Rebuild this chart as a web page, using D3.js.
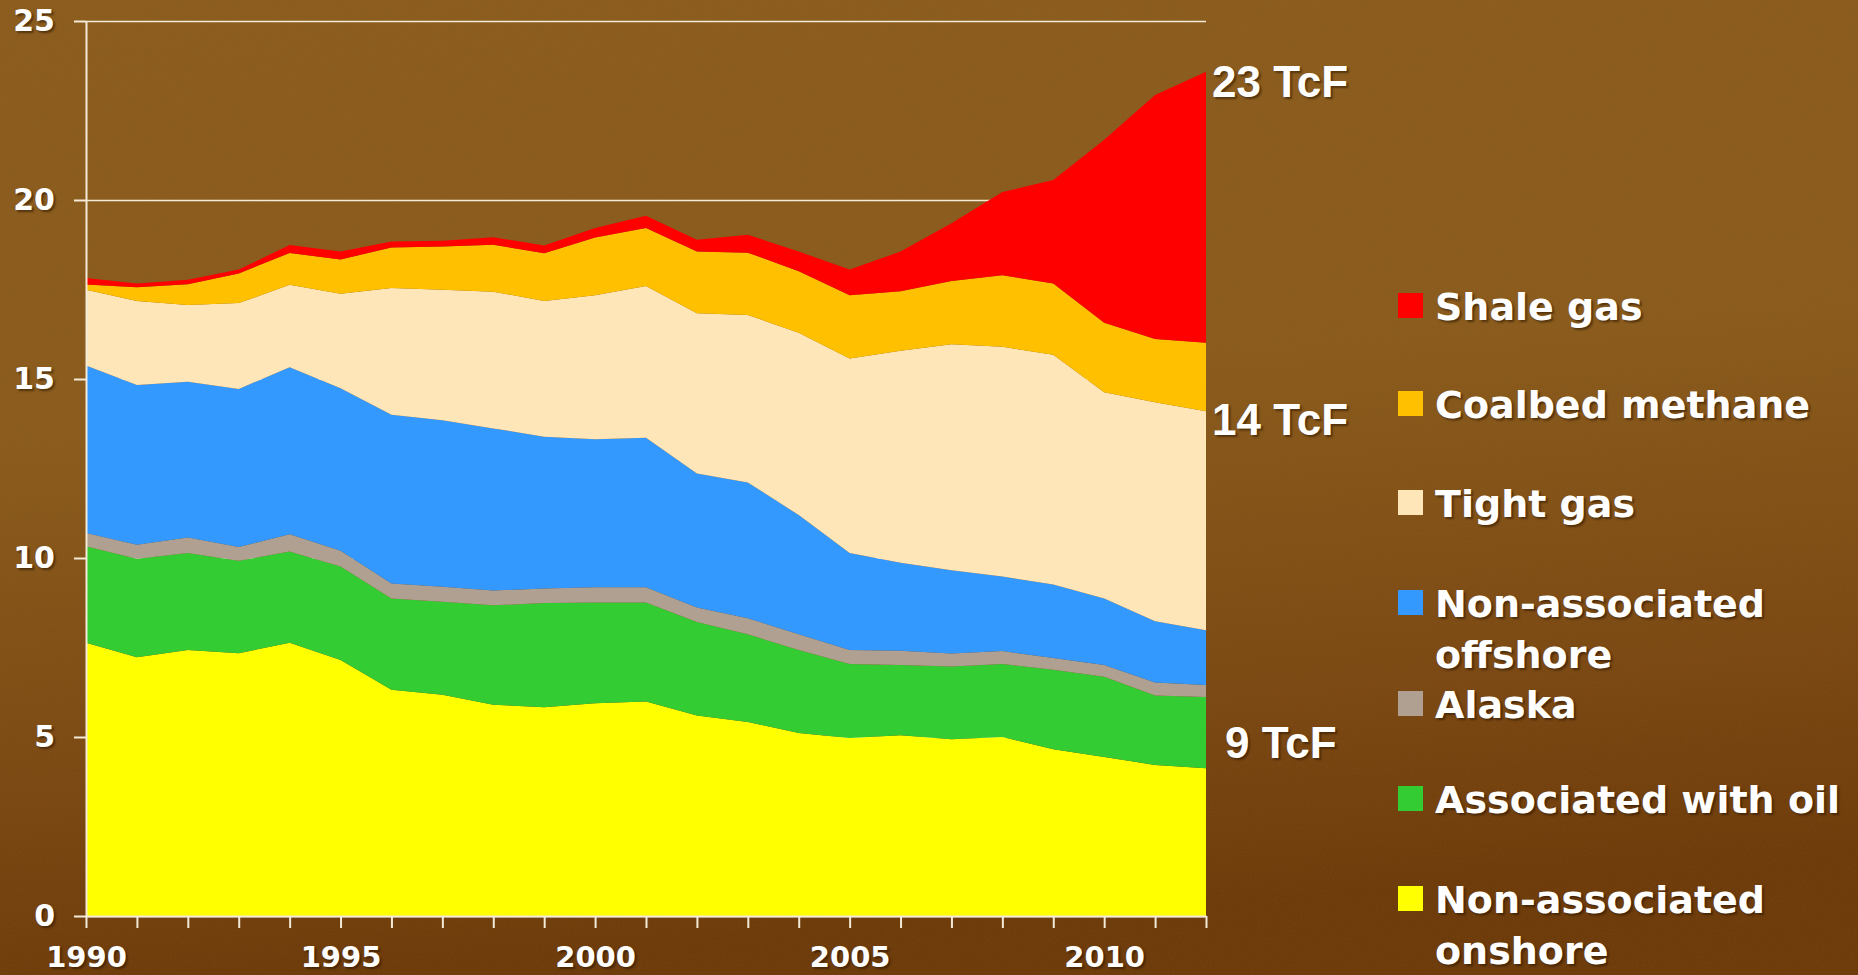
<!DOCTYPE html>
<html>
<head>
<meta charset="utf-8">
<script src="https://cdn.jsdelivr.net/npm/d3@7"></script>
<style>
  body { margin: 0; background: #7a4a14; overflow: hidden; }
  text { fill: #fff; text-shadow: 2px 2px 2px rgba(40,20,0,0.55); }
</style>
</head>
<body>
<div id="chart"></div>
<script>
// years on the x axis
const years = d3.range(1990, 2013)

// series values, TcF per year
const nonAssocOnshore = [7.63, 7.23, 7.43, 7.34, 7.63, 7.15, 6.32, 6.18, 5.90, 5.83, 5.94, 5.99, 5.60, 5.42, 5.11, 4.97, 5.05, 4.94, 5.00, 4.66, 4.44, 4.22, 4.13]
const assocWithOil = [2.70, 2.75, 2.71, 2.58, 2.55, 2.61, 2.55, 2.60, 2.78, 2.91, 2.82, 2.77, 2.61, 2.45, 2.32, 2.07, 1.96, 2.03, 2.04, 2.22, 2.24, 1.94, 1.99]
const alaska = [0.37, 0.39, 0.43, 0.39, 0.48, 0.44, 0.42, 0.42, 0.41, 0.41, 0.42, 0.42, 0.41, 0.45, 0.44, 0.39, 0.40, 0.36, 0.36, 0.33, 0.33, 0.36, 0.33]
const nonAssocOffshore = [4.68, 4.46, 4.35, 4.41, 4.67, 4.54, 4.71, 4.65, 4.53, 4.24, 4.14, 4.18, 3.74, 3.79, 3.33, 2.71, 2.46, 2.33, 2.08, 2.05, 1.86, 1.71, 1.53]
const tightGas = [2.11, 2.35, 2.15, 2.40, 2.30, 2.64, 3.54, 3.64, 3.82, 3.79, 4.02, 4.24, 4.48, 4.68, 5.09, 5.43, 5.92, 6.31, 6.42, 6.42, 5.76, 6.12, 6.12]
const coalbedMethane = [0.15, 0.38, 0.58, 0.83, 0.89, 0.96, 1.13, 1.21, 1.31, 1.33, 1.61, 1.62, 1.72, 1.74, 1.72, 1.77, 1.66, 1.77, 2.00, 1.99, 1.94, 1.77, 1.91]
const shaleGas = [0.18, 0.11, 0.12, 0.11, 0.22, 0.22, 0.17, 0.16, 0.21, 0.22, 0.27, 0.34, 0.33, 0.50, 0.55, 0.72, 1.11, 1.61, 2.32, 2.89, 5.11, 6.81, 7.57]

// stacking order, bottom to top
const keys = ['onshore', 'oil', 'alaska', 'offshore', 'tight', 'coalbed', 'shale']
const colors = ['#ffff00', '#33cc33', '#b0a092', '#3399ff', '#ffe6b8', '#ffc000', '#ff0000']

// legend, top to bottom
const legendLabels = [
  ['Shale gas'],
  ['Coalbed methane'],
  ['Tight gas'],
  ['Non-associated', 'offshore'],
  ['Alaska'],
  ['Associated with oil'],
  ['Non-associated', 'onshore']
]
const legendColors = ['#ff0000', '#ffc000', '#ffe6b8', '#3399ff', '#b0a092', '#33cc33', '#ffff00']

const endLabels = ['23 TcF', '14 TcF', '9 TcF']

const yTicks = [0, 5, 10, 15, 20, 25]
const xLabelYears = [1990, 1995, 2000, 2005, 2010]

const W = 1858
const H = 975

const table = years.map((yr, i) => ({
  year: yr,
  onshore: nonAssocOnshore[i],
  oil: assocWithOil[i],
  alaska: alaska[i],
  offshore: nonAssocOffshore[i],
  tight: tightGas[i],
  coalbed: coalbedMethane[i],
  shale: shaleGas[i]
}))

const svg = d3.select('#chart')
  .append('svg')
  .attr('width', W)
  .attr('height', H)

// brown textured backdrop
const defs = svg.append('defs')
const grad = defs.append('linearGradient')
  .attr('id', 'bg')
  .attr('x1', 0).attr('y1', 0).attr('x2', 0.15).attr('y2', 1)
grad.append('stop').attr('offset', '0%').attr('stop-color', '#8b5b1c')
grad.append('stop').attr('offset', '45%').attr('stop-color', '#8a5a1b')
grad.append('stop').attr('offset', '80%').attr('stop-color', '#7a4611')
grad.append('stop').attr('offset', '100%').attr('stop-color', '#6c3908')

const noise = defs.append('filter').attr('id', 'noise')
noise.append('feTurbulence')
  .attr('type', 'fractalNoise')
  .attr('baseFrequency', 0.6)
  .attr('numOctaves', 2)
  .attr('seed', 3)
noise.append('feColorMatrix')
  .attr('type', 'matrix')
  .attr('values', '0 0 0 0 0.3  0 0 0 0 0.2  0 0 0 0 0.05  0 0 0 0.5 0')

svg.append('rect').attr('width', W).attr('height', H).attr('fill', 'url(#bg)')
svg.append('rect').attr('width', W).attr('height', H)
  .attr('filter', 'url(#noise)').attr('opacity', 0.25)

const x = d3.scaleLinear().domain([1990, 2012]).range([86, 1206])
const y = d3.scaleLinear().domain([0, 25]).range([916, 21])

// gridlines behind the areas
svg.append('g')
  .attr('transform', 'translate(86,0)')
  .call(d3.axisLeft(y).tickValues(yTicks).tickSize(-(1206 - 86)).tickFormat(''))
  .call(g => g.select('.domain').remove())
  .call(g => g.selectAll('line').attr('stroke', '#f3ead8').attr('stroke-width', 1.5))

const stack = d3.stack().keys(keys)
const layers = stack(table)

const area = d3.area()
  .x(d => x(d.data.year))
  .y0(d => y(d[0]))
  .y1(d => y(d[1]))

svg.append('g')
  .selectAll('path')
  .data(layers)
  .enter()
  .append('path')
  .attr('d', area)
  .attr('fill', (d, i) => colors[i])

// y axis
const yAxis = svg.append('g')
  .attr('transform', 'translate(86,0)')
  .call(d3.axisLeft(y).tickValues(yTicks).tickSize(12).tickSizeOuter(0).tickPadding(19))
yAxis.select('.domain').attr('stroke', '#f3ead8').attr('stroke-width', 2)
yAxis.selectAll('line').attr('stroke', '#f3ead8').attr('stroke-width', 2)
yAxis.selectAll('text')
  .attr('fill', '#fff')
  .style('font-family', '"DejaVu Sans", Verdana, sans-serif')
  .style('font-weight', 'bold')
  .style('font-size', '30px')

// x axis, a tick every year, labels every five
const xAxis = svg.append('g')
  .attr('transform', 'translate(0,916)')
  .call(d3.axisBottom(x).tickValues(years).tickSize(12).tickSizeOuter(0)
    .tickFormat(d => xLabelYears.includes(d) ? d : ''))
xAxis.select('.domain').attr('stroke', '#f3ead8').attr('stroke-width', 2)
xAxis.selectAll('line').attr('stroke', '#f3ead8').attr('stroke-width', 2)
xAxis.selectAll('text')
  .attr('y', 51)
  .attr('dy', 0)
  .attr('fill', '#fff')
  .style('font-family', '"DejaVu Sans", Verdana, sans-serif')
  .style('font-weight', 'bold')
  .style('font-size', '29px')

// totals at the right end
const endPos = [
  { x: 1212, y: 97 },
  { x: 1212, y: 435 },
  { x: 1225, y: 758 }
]
svg.append('g')
  .selectAll('text')
  .data(endLabels)
  .enter()
  .append('text')
  .attr('x', (d, i) => endPos[i].x)
  .attr('y', (d, i) => endPos[i].y)
  .style('font-family', '"Liberation Sans", Arial, sans-serif')
  .style('font-weight', 'bold')
  .style('font-size', '44px')
  .text(d => d)

// legend
const legendBase = [320, 418, 517, 617, 718, 813, 913]
const legend = svg.append('g')
  .selectAll('g')
  .data(legendLabels)
  .enter()
  .append('g')
  .attr('transform', (d, i) => 'translate(1398,' + legendBase[i] + ')')

legend.append('rect')
  .attr('x', 0)
  .attr('y', -27)
  .attr('width', 25)
  .attr('height', 25)
  .attr('fill', (d, i) => legendColors[i])

legend.append('text')
  .attr('x', 37)
  .style('font-family', '"DejaVu Sans", Verdana, sans-serif')
  .style('font-weight', 'bold')
  .style('font-size', '38px')
  .selectAll('tspan')
  .data(d => d)
  .enter()
  .append('tspan')
  .attr('x', 37)
  .attr('dy', (d, i) => i === 0 ? 0 : 51)
  .text(d => d)
</script>
</body>
</html>
